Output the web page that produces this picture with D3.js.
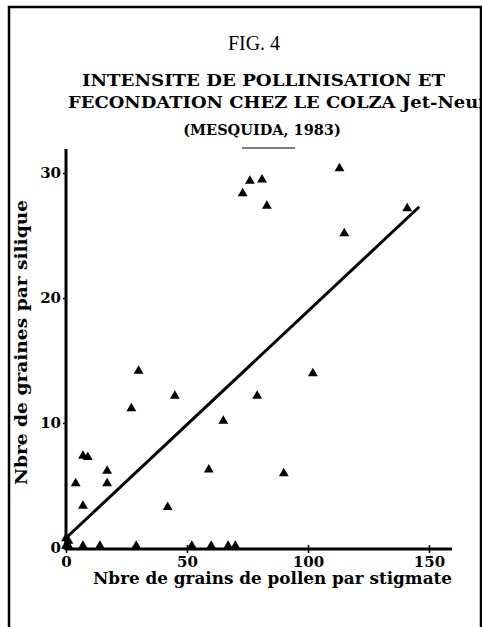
<!DOCTYPE html>
<html>
<head>
<meta charset="utf-8">
<script src="https://cdn.jsdelivr.net/npm/d3@7"></script>
<style>
  body { margin: 0; background: #fff; }
  svg text { font-family: "DejaVu Serif", "Liberation Serif", serif; fill: #000; }
  .ttl { font-weight: bold; font-size: 16px; }
  .lbl { font-weight: bold; font-size: 16px; }
  .tick text { font-weight: bold; font-size: 15px; }
</style>
</head>
<body>
<div id="chart"></div>
<script>
// pollen grains per stigma (x) vs seeds per silique (y)
var pollen = [0, 0, 1, 1, 7, 14, 29, 52, 60, 67, 70,
              4, 7, 7, 9, 17, 17, 27, 30, 45, 42, 59, 65, 79,
              73, 76, 81, 83, 102, 90, 113, 115, 141];
var graines = [0, 0.6, 0, 0.4, 0, 0, 0, 0, 0, 0, 0,
               5, 3.2, 7.2, 7.1, 6, 5, 11, 14, 12, 3.1, 6.1, 10, 12,
               28.2, 29.2, 29.3, 27.2, 13.8, 5.8, 30.2, 25, 27];
// regression line ends
var regX = [0, 146];
var regY = [0.8, 27.3];
var xTicks = [0, 50, 100, 150];
var yTicks = [0, 10, 20, 30];

var svg_w = 482, svg_h = 627;
var svg = d3.select("#chart").append("svg")
    .attr("width", svg_w).attr("height", svg_h);

//frame
svg.append("path")
    .attr("d", "M9,627 V7 H481 V627")
    .attr("fill", "none").attr("stroke", "#000").attr("stroke-width", 2.5);

//scales
var x = d3.scaleLinear().domain([0, 150]).range([66, 429]);
var y = d3.scaleLinear().domain([0, 30]).range([548, 173]);

//axes
var xAxis = svg.append("g")
    .attr("transform", "translate(0,549)")
    .call(d3.axisBottom(x).tickValues(xTicks).tickSize(4).tickPadding(3));
xAxis.select(".domain").attr("d", "M65,0 H452").attr("stroke-width", 3);
xAxis.selectAll(".tick line").attr("stroke-width", 1.5).attr("y1", -4);

var yAxis = svg.append("g")
    .attr("transform", "translate(66,0)")
    .call(d3.axisLeft(y).tickValues(yTicks).tickSize(3).tickPadding(2));
yAxis.select(".domain").attr("d", "M0,149 V550").attr("stroke-width", 3);
yAxis.selectAll(".tick line").attr("stroke-width", 1.5);

//regression line
svg.append("line")
    .attr("x1", x(regX[0])).attr("y1", y(regY[0]))
    .attr("x2", x(regX[1])).attr("y2", y(regY[1]))
    .attr("stroke", "#000").attr("stroke-width", 3);

//points
var tri = d3.symbol().type(d3.symbolTriangle).size(42);
svg.selectAll(".pt")
    .data(pollen)
    .enter().append("path")
    .attr("class", "pt")
    .attr("d", tri)
    .attr("transform", function(d, i) {
        return "translate(" + x(d) + "," + (y(graines[i]) - 2) + ")";
    })
    .attr("fill", "#000");

//titles
svg.append("text").attr("x", 254).attr("y", 50)
    .attr("text-anchor", "middle")
    .style("font-family", "'Liberation Serif', serif").style("font-size", "20px")
    .text("FIG. 4");
svg.append("text").attr("class", "ttl").attr("x", 82).attr("y", 86)
    .attr("textLength", 363).attr("lengthAdjust", "spacingAndGlyphs")
    .text("INTENSITE DE POLLINISATION ET");
svg.append("text").attr("class", "ttl").attr("x", 68).attr("y", 108)
    .attr("textLength", 418).attr("lengthAdjust", "spacingAndGlyphs")
    .text("FECONDATION CHEZ LE COLZA Jet-Neuf");
svg.append("text").attr("class", "ttl").attr("x", 262).attr("y", 135)
    .attr("text-anchor", "middle").style("font-size", "14.5px")
    .text("(MESQUIDA, 1983)");
svg.append("line")
    .attr("x1", 242).attr("x2", 295).attr("y1", 148).attr("y2", 148)
    .attr("stroke", "#000").attr("stroke-width", 1);

//axis labels
svg.append("text").attr("class", "lbl")
    .attr("transform", "translate(27,485) rotate(-90)")
    .attr("textLength", 285).attr("lengthAdjust", "spacingAndGlyphs")
    .text("Nbre de graines par silique");
svg.append("text").attr("class", "lbl")
    .attr("x", 93).attr("y", 584)
    .attr("textLength", 359).attr("lengthAdjust", "spacingAndGlyphs")
    .text("Nbre de grains de pollen par stigmate");
</script>
</body>
</html>
